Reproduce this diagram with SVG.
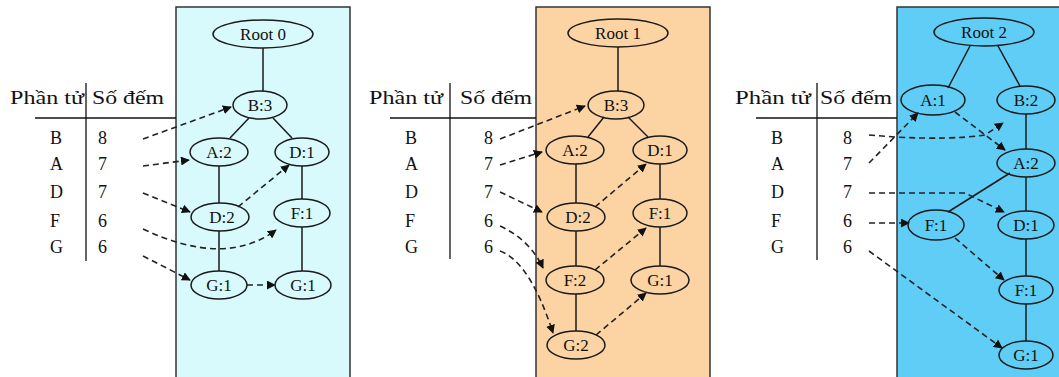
<svg xmlns="http://www.w3.org/2000/svg" width="1059" height="377" viewBox="0 0 1059 377">
<defs>
<marker id="ah" viewBox="0 0 10 10" refX="9" refY="5" markerWidth="9" markerHeight="9" markerUnits="userSpaceOnUse" orient="auto">
<path d="M0,0 L10,5 L0,10 z" fill="#111"/>
</marker>
<style>
.panel{stroke:#333;stroke-width:1.5}
.nd ellipse{fill:none;stroke:#1a1a1a;stroke-width:1.5}
.nd text,.tb text{font-family:"Liberation Serif","DejaVu Serif",serif;fill:#111}
.nd text{font-size:17px;text-anchor:middle;dominant-baseline:central}
.tb text{font-size:18px}
.tb line{stroke:#111;stroke-width:1.3}
.solid{stroke:#1a1a1a;stroke-width:1.5;fill:none}
.dash{stroke:#222;stroke-width:1.6;stroke-dasharray:6 4;fill:none;marker-end:url(#ah)}
</style>
</defs>
<rect width="1059" height="377" fill="#ffffff"/>
<!-- panels -->
<rect class="panel" x="176" y="7" width="174" height="380" fill="#d8fafc"/>
<rect class="panel" x="536" y="7" width="174" height="380" fill="#fcd4a4"/>
<rect class="panel" x="897" y="7" width="170" height="380" fill="#5fcdf5"/>

<!-- tables -->
<g class="tb" id="table0">
<text x="10" y="104" textLength="74" lengthAdjust="spacingAndGlyphs">Phần tử</text>
<text x="92" y="104" textLength="72" lengthAdjust="spacingAndGlyphs">Số đếm</text>
<line x1="86" y1="83" x2="86" y2="261"/>
<line x1="35" y1="118" x2="176" y2="118"/>
<text x="50" y="144">B</text><text x="98" y="144">8</text>
<text x="50" y="170">A</text><text x="98" y="170">7</text>
<text x="50" y="198">D</text><text x="98" y="198">7</text>
<text x="50" y="227">F</text><text x="98" y="227">6</text>
<text x="50" y="253">G</text><text x="98" y="253">6</text>
</g>
<g class="tb" id="table1">
<text x="369" y="104" textLength="74" lengthAdjust="spacingAndGlyphs">Phần tử</text>
<text x="460" y="104" textLength="72" lengthAdjust="spacingAndGlyphs">Số đếm</text>
<line x1="450" y1="83" x2="450" y2="259"/>
<line x1="390" y1="118" x2="536" y2="118"/>
<text x="405" y="144">B</text><text x="484" y="144">8</text>
<text x="405" y="170">A</text><text x="484" y="170">7</text>
<text x="405" y="198">D</text><text x="484" y="198">7</text>
<text x="405" y="227">F</text><text x="484" y="227">6</text>
<text x="405" y="253">G</text><text x="484" y="253">6</text>
</g>
<g class="tb" id="table2">
<text x="735" y="104" textLength="76" lengthAdjust="spacingAndGlyphs">Phần tử</text>
<text x="820" y="104" textLength="72" lengthAdjust="spacingAndGlyphs">Số đếm</text>
<line x1="817" y1="83" x2="817" y2="260"/>
<line x1="756" y1="118" x2="897" y2="118"/>
<text x="771" y="144">B</text><text x="843" y="144">8</text>
<text x="771" y="170">A</text><text x="843" y="170">7</text>
<text x="771" y="198">D</text><text x="843" y="198">7</text>
<text x="771" y="227">F</text><text x="843" y="227">6</text>
<text x="771" y="253">G</text><text x="843" y="253">6</text>
</g>

<!-- connectors -->
<g id="connectors">
<!-- panel 0 solid -->
<path class="solid" d="M263,48 V91"/>
<path class="solid" d="M249,118 L230,138"/>
<path class="solid" d="M273,118 L292,138"/>
<path class="solid" d="M219,166 V203"/>
<path class="solid" d="M219,231 V271"/>
<path class="solid" d="M302,166 V199"/>
<path class="solid" d="M302,227 V271"/>
<!-- panel 0 dashed -->
<path class="dash" d="M143,139 L231,107"/>
<path class="dash" d="M143,166 L189,160"/>
<path class="dash" d="M143,193 L190,212"/>
<path class="dash" d="M143,229 Q225,268 276,230"/>
<path class="dash" d="M143,256 L190,280"/>
<path class="dash" d="M238,207 L289,165"/>
<path class="dash" d="M247,285 L275,285"/>

<!-- panel 1 solid -->
<path class="solid" d="M618,47 V91"/>
<path class="solid" d="M604,117 L588,137"/>
<path class="solid" d="M628,117 L648,137"/>
<path class="solid" d="M576,164 V203"/>
<path class="solid" d="M576,231 V266"/>
<path class="solid" d="M576,294 V331"/>
<path class="solid" d="M660,164 V199"/>
<path class="solid" d="M660,227 V266"/>
<!-- panel 1 dashed -->
<path class="dash" d="M500,139 L585,106"/>
<path class="dash" d="M500,165 L542,152"/>
<path class="dash" d="M500,192 L542,212"/>
<path class="dash" d="M500,226 Q530,240 543,268"/>
<path class="dash" d="M500,251 Q530,262 553,333"/>
<path class="dash" d="M595,207 L646,164"/>
<path class="dash" d="M595,270 L646,228"/>
<path class="dash" d="M596,335 L646,293"/>

<!-- panel 2 solid -->
<path class="solid" d="M970,46 L948,88"/>
<path class="solid" d="M998,46 L1020,86"/>
<path class="solid" d="M1026,114 V149"/>
<path class="solid" d="M1010,173 L948,212"/>
<path class="solid" d="M1026,177 V211"/>
<path class="solid" d="M1026,239 V276"/>
<path class="solid" d="M1026,304 V341"/>
<!-- panel 2 dashed -->
<path class="dash" d="M869,135 L895,137 Q950,140 985,135 L1003,123"/>
<path class="dash" d="M869,163 L918,113"/>
<path class="dash" d="M955,112 L1005,150"/>
<path class="dash" d="M869,193 L965,193 L1004,212"/>
<path class="dash" d="M869,223 L909,223"/>
<path class="dash" d="M955,238 L1004,280"/>
<path class="dash" d="M869,251 L1002,348"/>
</g>

<!-- panel 0 nodes -->
<g class="nd" id="p0-root"><ellipse cx="263" cy="34" rx="50" ry="14"/><text x="263" y="34">Root 0</text></g>
<g class="nd" id="p0-b3"><ellipse cx="260" cy="105" rx="27" ry="14"/><text x="260" y="105">B:3</text></g>
<g class="nd" id="p0-a2"><ellipse cx="219" cy="152" rx="29" ry="14"/><text x="219" y="152">A:2</text></g>
<g class="nd" id="p0-d1"><ellipse cx="302" cy="152" rx="27" ry="14"/><text x="302" y="152">D:1</text></g>
<g class="nd" id="p0-d2"><ellipse cx="220" cy="217" rx="29" ry="14"/><text x="222" y="217">D:2</text></g>
<g class="nd" id="p0-f1"><ellipse cx="302" cy="213" rx="28" ry="14"/><text x="302" y="213">F:1</text></g>
<g class="nd" id="p0-g1a"><ellipse cx="219" cy="285" rx="28" ry="14"/><text x="219" y="285">G:1</text></g>
<g class="nd" id="p0-g1b"><ellipse cx="303" cy="285" rx="28" ry="14"/><text x="303" y="285">G:1</text></g>

<!-- panel 1 nodes -->
<g class="nd" id="p1-root"><ellipse cx="618" cy="33" rx="50" ry="14"/><text x="618" y="33">Root 1</text></g>
<g class="nd" id="p1-b3"><ellipse cx="616" cy="105" rx="28" ry="14"/><text x="616" y="105">B:3</text></g>
<g class="nd" id="p1-a2"><ellipse cx="575" cy="150" rx="29" ry="14"/><text x="575" y="150">A:2</text></g>
<g class="nd" id="p1-d1"><ellipse cx="660" cy="150" rx="27" ry="14"/><text x="660" y="150">D:1</text></g>
<g class="nd" id="p1-d2"><ellipse cx="576" cy="217" rx="29" ry="14"/><text x="578" y="217">D:2</text></g>
<g class="nd" id="p1-f1"><ellipse cx="660" cy="213" rx="27" ry="14"/><text x="660" y="213">F:1</text></g>
<g class="nd" id="p1-f2"><ellipse cx="575" cy="280" rx="29" ry="14"/><text x="575" y="280">F:2</text></g>
<g class="nd" id="p1-g1"><ellipse cx="660" cy="280" rx="29" ry="14"/><text x="660" y="280">G:1</text></g>
<g class="nd" id="p1-g2"><ellipse cx="576" cy="345" rx="29" ry="14"/><text x="576" y="345">G:2</text></g>

<!-- panel 2 nodes -->
<g class="nd" id="p2-root"><ellipse cx="984" cy="32" rx="50" ry="14"/><text x="984" y="32">Root 2</text></g>
<g class="nd" id="p2-a1"><ellipse cx="933" cy="100" rx="32" ry="15"/><text x="933" y="100">A:1</text></g>
<g class="nd" id="p2-b2"><ellipse cx="1026" cy="100" rx="29" ry="14"/><text x="1026" y="100">B:2</text></g>
<g class="nd" id="p2-a2"><ellipse cx="1026" cy="163" rx="29" ry="14"/><text x="1026" y="163">A:2</text></g>
<g class="nd" id="p2-f1a"><ellipse cx="936" cy="225" rx="28" ry="15"/><text x="936" y="225">F:1</text></g>
<g class="nd" id="p2-d1"><ellipse cx="1026" cy="225" rx="28" ry="14"/><text x="1026" y="225">D:1</text></g>
<g class="nd" id="p2-f1b"><ellipse cx="1026" cy="290" rx="27" ry="14"/><text x="1026" y="290">F:1</text></g>
<g class="nd" id="p2-g1"><ellipse cx="1026" cy="355" rx="27" ry="14"/><text x="1026" y="355">G:1</text></g>
</svg>
